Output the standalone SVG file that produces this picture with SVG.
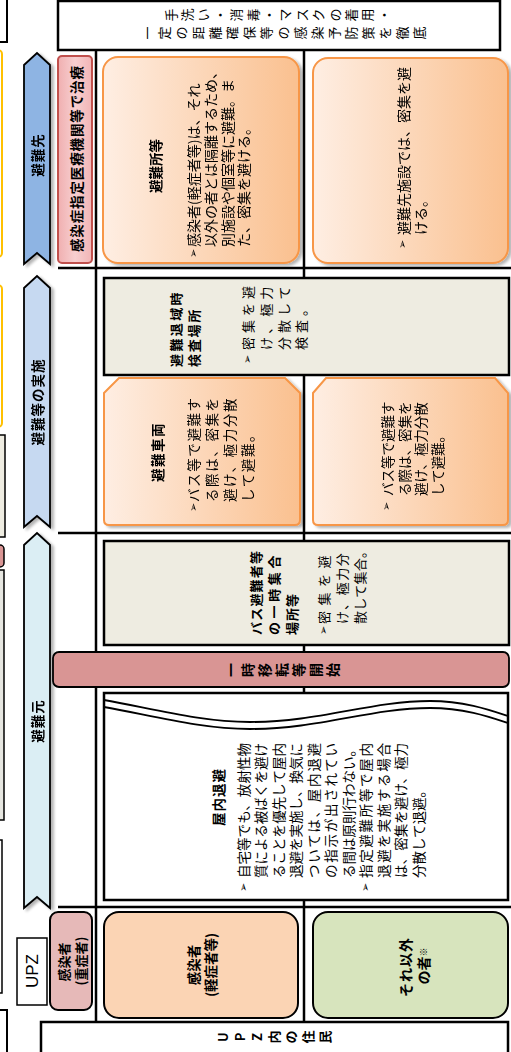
<svg xmlns="http://www.w3.org/2000/svg" width="511" height="1052" viewBox="0 0 511 1052">
<defs>
<style>
.j{font-family:"Noto Sans CJK JP","Noto Sans",sans-serif;fill:#000;dominant-baseline:central}
.b{font-weight:700}
.m{text-anchor:middle}
.bu{font-family:"DejaVu Sans",sans-serif;font-size:11px;dominant-baseline:central;fill:#000}
.ln{stroke:#000;stroke-width:2.5;fill:none}
.or{fill:url(#gOr);stroke:#F79646;stroke-width:2}
.gy{fill:#EEECE1;stroke:#000;stroke-width:2.5}
.ar{stroke:#000;stroke-width:1.8}
</style>
<linearGradient id="gOr" x1="0" y1="0" x2="1" y2="0"><stop offset="0" stop-color="#FEEEE3"/><stop offset="1" stop-color="#FAC08F"/></linearGradient>
<linearGradient id="gPk" x1="0" y1="0" x2="1" y2="0"><stop offset="0" stop-color="#F0AFB0"/><stop offset="0.5" stop-color="#F7CFD0"/><stop offset="1" stop-color="#F2B5B6"/></linearGradient>
<filter id="sh" x="-30%" y="-5%" width="160%" height="115%"><feGaussianBlur in="SourceAlpha" stdDeviation="1.5"/><feOffset dx="3" dy="2"/><feComponentTransfer><feFuncA type="linear" slope="0.3"/></feComponentTransfer><feMerge><feMergeNode/><feMergeNode in="SourceGraphic"/></feMerge></filter>
</defs>
<rect width="511" height="1052" fill="#fff"/>

<g id="edge">
<rect x="-20" y="-5" width="27" height="47" fill="#fff" stroke="#000" stroke-width="2"/>
<rect x="-20" y="50" width="22" height="207" rx="4" fill="#fff" stroke="#FFC000" stroke-width="2"/>
<rect x="-20" y="285" width="22" height="142" rx="4" fill="#fff" stroke="#FFC000" stroke-width="2"/>
<rect x="-20" y="435" width="25" height="102" fill="#EEECE1" stroke="#000" stroke-width="1.5"/>
<rect x="-20" y="545" width="24" height="22" rx="4" fill="#D99594" stroke="#000" stroke-width="1.5"/>
<rect x="-20" y="570" width="24" height="250" fill="#E6E6E0" stroke="#000" stroke-width="1.5"/>
<rect x="-20" y="840" width="22" height="153" fill="#fff" stroke="#000" stroke-width="1.5"/>
<rect x="-20" y="1010" width="27" height="60" fill="#fff" stroke="#000" stroke-width="2"/>
</g>

<g id="connectors">
<line class="ln" x1="96" y1="51" x2="96" y2="1022"/>
<line class="ln" x1="304" y1="51" x2="304" y2="1022"/>
<line class="ln" x1="58" y1="268" x2="511" y2="268"/>
<line class="ln" x1="58" y1="533" x2="511" y2="533"/>
<line class="ln" x1="58" y1="907" x2="511" y2="907"/>
</g>

<g id="n-prevention">
<rect x="58" y="1" width="442" height="49" fill="#fff" stroke="#000" stroke-width="2.5"/>
<g transform="matrix(0,-1,1,0,0,1052)">
<text class="j m" font-size="13" x="1037 1037 1037 1037 1037 1037 1037 1037 1037 1037 1037 1037 1037 1037" y="170 186.4 202.8 219.2 235.6 252 268.4 284.8 301.2 317.6 334 350.4 366.8 383.2">手洗い・消毒・マスクの着用・</text>
<text class="j m" font-size="13" x="1019 1019 1019 1019 1019 1019 1019 1019 1019 1019 1019 1019 1019 1019 1019 1019 1019" y="146 163 180 197 214 231 248 265 282 299 316 333 350 367 384 401 418">一定の距離確保等の感染予防策を徹底</text>
</g>
</g>

<g id="n-arrow-dest" filter="url(#sh)">
<path class="ar" fill="#8EB4E3" d="M24,264 L24,65 L37,53 L50,65 L50,264 L37,253 Z"/>
<g transform="matrix(0,-1,1,0,0,1052)"><text class="j b m" font-size="13.5" letter-spacing="1" x="897" y="37">避難先</text></g>
</g>
<g id="n-arrow-exec" filter="url(#sh)">
<path class="ar" fill="#C6D9F1" d="M24,527 L24,288 L37,276 L50,288 L50,527 L37,516 Z"/>
<g transform="matrix(0,-1,1,0,0,1052)"><text class="j b m" font-size="13.5" letter-spacing="1" x="650" y="37">避難等の実施</text></g>
</g>
<g id="n-arrow-origin" filter="url(#sh)">
<path class="ar" fill="#DBEEF4" d="M24,908 L24,545 L37,533 L50,545 L50,908 L37,897 Z"/>
<g transform="matrix(0,-1,1,0,0,1052)"><text class="j b m" font-size="13.5" letter-spacing="1" x="331" y="37">避難元</text></g>
</g>

<g id="n-hospital">
<rect x="58" y="56" width="34" height="207" rx="4" fill="url(#gPk)" stroke="#C0504D" stroke-width="2"/>
<g transform="matrix(0,-1,1,0,0,1052)"><text class="j b m" font-size="13.5" x="893" y="76" textLength="186" lengthAdjust="spacing">感染症指定医療機関等で治療</text></g>
</g>

<g id="n-shelter" filter="url(#sh)">
<rect class="or" x="103" y="57" width="196" height="206" rx="15"/>
<g transform="matrix(0,-1,1,0,0,1052)">
<text class="j b m" font-size="13.5" x="886" y="155">避難所等</text>
<text class="bu" x="794" y="193">➢</text>
<text class="j" font-size="14" x="805" y="193">感染者(軽症者等)は、それ</text>
<text class="j" font-size="14" x="805" y="210">以外の者とは隔離するため、</text>
<text class="j" font-size="14" x="805" y="227">別施設や個室等に避難。ま</text>
<text class="j" font-size="14" x="805" y="243">た、密集を避ける。</text>
</g>
</g>

<g id="n-shelter-others" filter="url(#sh)">
<rect class="or" x="313" y="58" width="195" height="205" rx="15"/>
<g transform="matrix(0,-1,1,0,0,1052)">
<text class="bu" x="803" y="402">➢</text>
<text class="j" font-size="14" x="817" y="403">避難先施設では、密集を避</text>
<text class="j" font-size="14" x="817" y="420">ける。</text>
</g>
</g>

<g id="n-inspection">
<rect class="gy" x="104" y="278" width="405" height="97"/>
<g transform="matrix(0,-1,1,0,0,1052)">
<text class="j b" font-size="13" letter-spacing="2.4" x="685" y="175">避難退域時</text>
<text class="j b" font-size="13" letter-spacing="1.8" x="685" y="193">検査場所</text>
<text class="bu" x="688" y="247">➢</text>
<text class="j" font-size="13" letter-spacing="4" x="702" y="247">密集を避</text>
<text class="j" font-size="13" letter-spacing="4" x="702" y="265">け、極力</text>
<text class="j" font-size="13" letter-spacing="4" x="702" y="283">分散して</text>
<text class="j" font-size="13" letter-spacing="4" x="702" y="300">検査。</text>
</g>
</g>

<g id="n-vehicle" filter="url(#sh)">
<path class="or" d="M104,393 L119,378 L285,378 L300,393 L300,520 Q300,525 295,525 L109,525 Q104,525 104,520 Z"/>
<g transform="matrix(0,-1,1,0,0,1052)">
<text class="j b m" font-size="13.5" letter-spacing="1.5" x="600" y="157">避難車両</text>
<text class="bu" x="540" y="193">➢</text>
<text class="j" font-size="13.5" letter-spacing="1.6" x="550" y="193">バス等で避難す</text>
<text class="j" font-size="13.5" letter-spacing="1.6" x="550" y="211">る際は、密集を</text>
<text class="j" font-size="13.5" letter-spacing="1.6" x="550" y="229">避け、極力分散</text>
<text class="j" font-size="13.5" letter-spacing="1.6" x="550" y="247">して避難。</text>
</g>
</g>

<g id="n-vehicle-others" filter="url(#sh)">
<path class="or" d="M313,393 L326,378 L495,378 L508,393 L508,520 Q508,525 503,525 L318,525 Q313,525 313,520 Z"/>
<g transform="matrix(0,-1,1,0,0,1052)">
<text class="bu" x="541" y="386">➢</text>
<text class="j" font-size="13.5" x="556" y="387">バス等で避難す</text>
<text class="j" font-size="13.5" x="556" y="403.5">る際は、密集を</text>
<text class="j" font-size="13.5" x="556" y="420">避け、極力分散</text>
<text class="j" font-size="13.5" x="556" y="437">して避難。</text>
</g>
</g>

<g id="n-assembly">
<rect class="gy" x="104" y="541" width="405" height="104"/>
<g transform="matrix(0,-1,1,0,0,1052)">
<text class="j b" font-size="13" letter-spacing="1.2" x="417" y="255">バス避難者等</text>
<text class="j b" font-size="13" letter-spacing="3.6" x="417" y="273">の一時集合</text>
<text class="j b" font-size="13" letter-spacing="1" x="417" y="291">場所等</text>
<text class="bu" x="417" y="323">➢</text>
<text class="j" font-size="13" letter-spacing="5.5" x="428" y="323">密集を避</text>
<text class="j" font-size="13" letter-spacing="1.6" x="428" y="341">け、極力分</text>
<text class="j" font-size="13" letter-spacing="0.3" x="428" y="359">散して集合。</text>
</g>
</g>

<g id="n-relocation">
<rect x="53" y="652" width="456" height="35" rx="6" fill="#D99594" stroke="#000" stroke-width="1.8"/>
<g transform="matrix(0,-1,1,0,0,1052)">
<text class="j b m" font-size="14" x="382 382 382 382 382 382 382" y="230 247 264 281 298 315 332">一時移転等開始</text>
</g>
</g>

<g id="n-indoor">
<rect x="104" y="693" width="404" height="207" fill="#fff" stroke="#000" stroke-width="2.5"/>
<path d="M104,700 C150,708 200,722 250,722 C320,722 370,701 430,701 C465,701 490,710 508,716" fill="none" stroke="#000" stroke-width="1.8"/>
<path d="M104,707 C150,715 200,729 250,729 C320,729 370,708 430,708 C465,708 490,717 508,723" fill="none" stroke="#000" stroke-width="1.8"/>
<g transform="matrix(0,-1,1,0,0,1052)">
<text class="j b m" font-size="13.5" letter-spacing="1" x="255" y="218">屋内退避</text>
<text class="bu" x="160" y="243">➢</text>
<text class="j" font-size="13.5" x="174" y="243" textLength="135" lengthAdjust="spacing">自宅等でも、放射性物</text>
<text class="j" font-size="13.5" x="174" y="260" textLength="135" lengthAdjust="spacing">質による被ばくを避け</text>
<text class="j" font-size="13.5" x="174" y="277.5" textLength="135" lengthAdjust="spacing">ることを優先して屋内</text>
<text class="j" font-size="13.5" x="174" y="295" textLength="135" lengthAdjust="spacing">退避を実施し、換気に</text>
<text class="j" font-size="13.5" x="174" y="312.5" textLength="135" lengthAdjust="spacing">ついては、屋内退避</text>
<text class="j" font-size="13.5" x="174" y="330" textLength="135" lengthAdjust="spacing">の指示が出されてい</text>
<text class="j" font-size="13.5" x="174" y="347.5">る間は原則行わない。</text>
<text class="bu" x="160" y="365">➢</text>
<text class="j" font-size="13.5" x="174" y="365" textLength="135" lengthAdjust="spacing">指定避難所等で屋内</text>
<text class="j" font-size="13.5" x="174" y="382.5" textLength="135" lengthAdjust="spacing">退避を実施する場合</text>
<text class="j" font-size="13.5" x="174" y="400" textLength="135" lengthAdjust="spacing">は、密集を避け、極力</text>
<text class="j" font-size="13.5" x="174" y="417.5">分散して退避。</text>
</g>
</g>

<g id="n-severe">
<rect x="50" y="912" width="42" height="98" rx="8" fill="#E6B9B8" stroke="#000" stroke-width="2"/>
<g transform="matrix(0,-1,1,0,0,1052)">
<text class="j b m" font-size="13" x="90" y="63">感染者</text>
<text class="j b m" font-size="13" x="91" y="80">(重症者)</text>
</g>
</g>

<g id="n-mild">
<rect x="104" y="912" width="194" height="106" rx="15" fill="#FBD4B4" stroke="#000" stroke-width="2"/>
<g transform="matrix(0,-1,1,0,0,1052)">
<text class="j b m" font-size="13.5" x="87" y="193">感染者</text>
<text class="j b m" font-size="13.5" x="87" y="210">(軽症者等)</text>
</g>
</g>

<g id="n-others">
<rect x="313" y="912" width="195" height="106" rx="15" fill="#D7E4BD" stroke="#000" stroke-width="2"/>
<g transform="matrix(0,-1,1,0,0,1052)">
<text class="j b m" font-size="14" letter-spacing="1" x="85" y="405">それ以外</text>
<text class="j b m" font-size="14" x="86" y="423">の者<tspan font-size="9">※</tspan></text>
</g>
</g>

<g id="n-upz">
<rect x="17" y="938" width="30" height="67" fill="#fff" stroke="#000" stroke-width="1.5"/>
<g transform="matrix(0,-1,1,0,0,1052)">
<text x="81" y="32" font-family="Liberation Sans, Arial, sans-serif" font-size="17" text-anchor="middle" dominant-baseline="central" fill="#000">UPZ</text>
</g>
</g>

<g id="n-residents">
<rect x="41" y="1022" width="467" height="40" fill="#fff" stroke="#000" stroke-width="2.5"/>
<g transform="matrix(0,-1,1,0,0,1052)">
<text class="j b m" font-size="13" x="15 15 15 15 15 15 15" y="222 239 256 273 290 307 324">UPZ内の住民</text>
</g>
</g>
</svg>
